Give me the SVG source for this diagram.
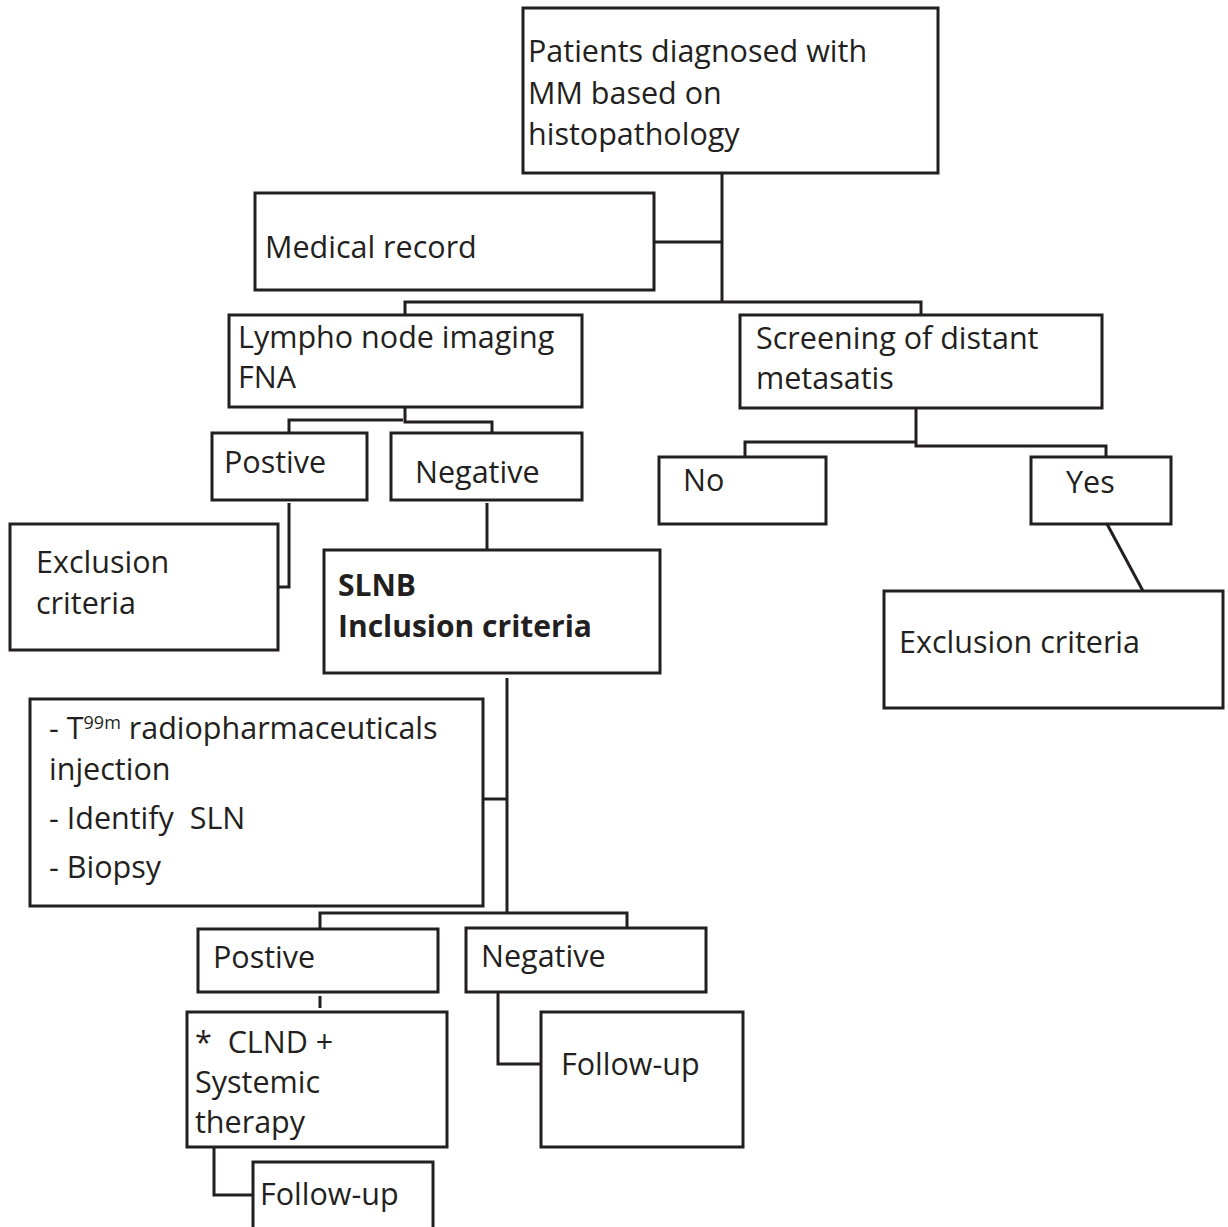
<svg xmlns="http://www.w3.org/2000/svg" width="1228" height="1227" viewBox="0 0 1228 1227">
<style>
  .box { fill: #ffffff; stroke: #231f20; stroke-width: 3; }
  .conn { fill: none; stroke: #231f20; stroke-width: 3; stroke-linejoin: miter; }
  .t { font-family: "Open Sans", "Liberation Sans", sans-serif; font-size: 30.5px; fill: #231f20; white-space: pre; }
  .b { font-weight: 700; font-size: 30px; }
  .sup { font-size: 18px; }
</style>
<rect width="1228" height="1227" fill="#ffffff"/>
<g id="connectors">
  <path class="conn" d="M722,173 V302"/>
  <path class="conn" d="M654,242 H722"/>
  <path class="conn" d="M405,315 V302 H921 V315"/>
  <path class="conn" d="M405,407 V422 H492 V433"/>
  <path class="conn" d="M289,433 V420 H403"/>
  <path class="conn" d="M916,408 V446 H1106 V457"/>
  <path class="conn" d="M745,457 V442 H916"/>
  <path class="conn" d="M289,503 V587 H274"/>
  <path class="conn" d="M487,503 V549"/>
  <path class="conn" d="M1107,524 L1143,591"/>
  <path class="conn" d="M507,678 V913"/>
  <path class="conn" d="M483,799 H507"/>
  <path class="conn" d="M320,928 V913 H627 V928"/>
  <path class="conn" d="M320,996 V1008"/>
  <path class="conn" d="M498,992 V1064 H541"/>
  <path class="conn" d="M214,1147 V1195 H253"/>
</g>
<g id="n-patients">
  <rect class="box" x="523" y="8" width="415" height="165"/>
  <text class="t" x="528" y="62">Patients diagnosed with</text>
  <text class="t" x="528" y="104">MM based on</text>
  <text class="t" x="528" y="145">histopathology</text>
</g>
<g id="n-medical">
  <rect class="box" x="255" y="193" width="399" height="97"/>
  <text class="t" x="265" y="258">Medical record</text>
</g>
<g id="n-lympho">
  <rect class="box" x="229" y="315" width="353" height="92"/>
  <text class="t" x="238" y="348">Lympho node imaging</text>
  <text class="t" x="238" y="388">FNA</text>
</g>
<g id="n-screening">
  <rect class="box" x="740" y="315" width="362" height="93"/>
  <text class="t" x="756" y="349">Screening of distant</text>
  <text class="t" x="756" y="389">metasatis</text>
</g>
<g id="n-positive1">
  <rect class="box" x="212" y="433" width="155" height="67"/>
  <text class="t" x="224" y="473">Postive</text>
</g>
<g id="n-negative1">
  <rect class="box" x="391" y="433" width="191" height="67"/>
  <text class="t" x="415" y="483">Negative</text>
</g>
<g id="n-no">
  <rect class="box" x="659" y="457" width="167" height="67"/>
  <text class="t" x="683" y="491">No</text>
</g>
<g id="n-yes">
  <rect class="box" x="1031" y="457" width="140" height="67"/>
  <text class="t" x="1066" y="493">Yes</text>
</g>
<g id="n-exclusion-left">
  <rect class="box" x="10" y="524" width="268" height="126"/>
  <text class="t" x="36" y="573">Exclusion</text>
  <text class="t" x="36" y="614">criteria</text>
</g>
<g id="n-slnb">
  <rect class="box" x="324" y="550" width="336" height="123"/>
  <text class="t b" x="338" y="596">SLNB</text>
  <text class="t b" x="338" y="637">Inclusion criteria</text>
</g>
<g id="n-exclusion-right">
  <rect class="box" x="884" y="591" width="339" height="117"/>
  <text class="t" x="899" y="653">Exclusion criteria</text>
</g>
<g id="n-procedure">
  <rect class="box" x="30" y="699" width="453" height="207"/>
  <text class="t" x="49" y="739">- T<tspan class="sup" dy="-10">99m</tspan><tspan dy="10"> radiopharmaceuticals</tspan></text>
  <text class="t" x="49" y="780">injection</text>
  <text class="t" x="49" y="829">- Identify  SLN</text>
  <text class="t" x="49" y="878">- Biopsy</text>
</g>
<g id="n-positive2">
  <rect class="box" x="198" y="929" width="240" height="63"/>
  <text class="t" x="213" y="968">Postive</text>
</g>
<g id="n-negative2">
  <rect class="box" x="466" y="928" width="240" height="64"/>
  <text class="t" x="481" y="967">Negative</text>
</g>
<g id="n-clnd">
  <rect class="box" x="187" y="1012" width="260" height="135"/>
  <text class="t" x="195" y="1053">*  CLND +</text>
  <text class="t" x="195" y="1093">Systemic</text>
  <text class="t" x="195" y="1133">therapy</text>
</g>
<g id="n-followup-right">
  <rect class="box" x="541" y="1012" width="202" height="135"/>
  <text class="t" x="561" y="1075">Follow-up</text>
</g>
<g id="n-followup-low">
  <rect class="box" x="253" y="1162" width="180" height="80"/>
  <text class="t" x="260" y="1205">Follow-up</text>
</g>
</svg>
